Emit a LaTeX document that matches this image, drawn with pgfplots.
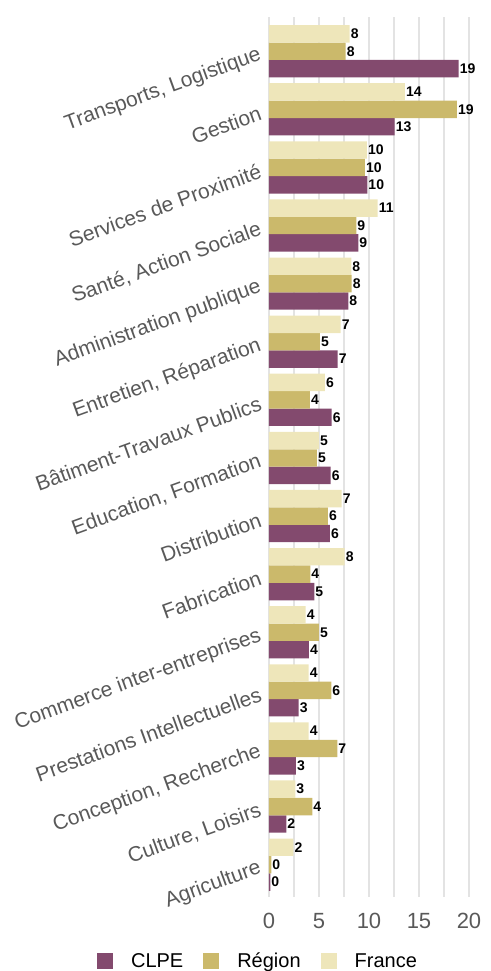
\documentclass[border=0pt]{standalone}
\usepackage{fontspec}
\setmainfont{Liberation Sans}
\usepackage{pgfplots}
\pgfplotsset{compat=1.18}

\definecolor{clpe}{HTML}{834A6E}
\definecolor{region}{HTML}{CBB96B}
\definecolor{france}{HTML}{EEE6BA}
\definecolor{labgray}{HTML}{595959}
\definecolor{gridgray}{HTML}{E3E3E3}

\begin{document}
\begin{tikzpicture}
\begin{axis}[
    scale only axis,
    width=200bp, height=880bp,
    xmin=0, xmax=20,
    ymin=-0.556, ymax=14.589,
    axis line style={draw=none},
    major tick length=0pt, minor tick length=0pt,
    xtick={0,5,10,15,20},
    minor xtick={2.5,7.5,12.5,17.5},
    xmajorgrids, xminorgrids,
    grid style={gridgray, line width=1.5bp},
    minor grid style={gridgray, line width=1.5bp},
    /pgf/number format/assume math mode=true,
    xticklabel style={inner sep=0pt, anchor=north, yshift=-16bp,
        font=\fontsize{22bp}{24bp}\selectfont, text=labgray},
    ytick={0,...,14},
    yticklabels={Agriculture, {Culture, Loisirs}, {Conception, Recherche},
        Prestations Intellectuelles, Commerce inter-entreprises, Fabrication,
        Distribution, {Education, Formation}, Bâtiment-Travaux Publics,
        {Entretien, Réparation}, Administration publique, {Santé, Action Sociale},
        Services de Proximité, Gestion, {Transports, Logistique}},
    yticklabel style={rotate=20, anchor=east, inner sep=0pt, xshift=-9bp,
        font=\fontsize{21bp}{24bp}\selectfont, text=labgray},
    xbar, bar width=17.4bp,
    point meta=explicit symbolic,
    nodes near coords={\pgfplotspointmeta},
    every node near coord/.append style={anchor=west, inner xsep=1bp,
        font=\fontsize{14bp}{16bp}\selectfont\bfseries, text=black},
    legend columns=3,
    legend style={at={(-0.055,-0.0727)}, anchor=center, draw=none, fill=none,
        font=\fontsize{20bp}{24bp}\selectfont,
        /tikz/every odd column/.append style={column sep=16bp},
        /tikz/every even column/.append style={column sep=18bp}},
    legend image code/.code={\fill[#1] (0bp,-8bp) rectangle (16bp,8bp);},
]
\addplot[fill=clpe, draw=none, bar shift=-17.4bp] coordinates {
    (18.97,14) [19] (12.57,13) [13] (9.83,12) [10] (8.93,11) [9] (7.93,10) [8]
    (6.87,9) [7] (6.27,8) [6] (6.17,7) [6] (6.10,6) [6] (4.53,5) [5]
    (4.00,4) [4] (2.97,3) [3] (2.70,2) [3] (1.73,1) [2] (0.13,0) [0]
};
\addlegendentry{CLPE}
\addplot[fill=region, draw=none, bar shift=0bp] coordinates {
    (7.67,14) [8] (18.80,13) [19] (9.60,12) [10] (8.73,11) [9] (8.27,10) [8]
    (5.10,9) [5] (4.10,8) [4] (4.80,7) [5] (5.90,6) [6] (4.13,5) [4]
    (5.00,4) [5] (6.23,3) [6] (6.83,2) [7] (4.33,1) [4] (0.23,0) [0]
};
\addlegendentry{Région}
\addplot[fill=france, draw=none, bar shift=17.4bp] coordinates {
    (8.07,14) [8] (13.60,13) [14] (9.80,12) [10] (10.87,11) [11] (8.23,10) [8]
    (7.17,9) [7] (5.60,8) [6] (5.00,7) [5] (7.27,6) [7] (7.57,5) [8]
    (3.67,4) [4] (3.97,3) [4] (3.97,2) [4] (2.63,1) [3] (2.45,0) [2]
};
\addlegendentry{France}
\end{axis}
\pgfresetboundingbox
\useasboundingbox (-269bp,-74bp) rectangle (222bp,897bp);
\end{tikzpicture}
\end{document}
